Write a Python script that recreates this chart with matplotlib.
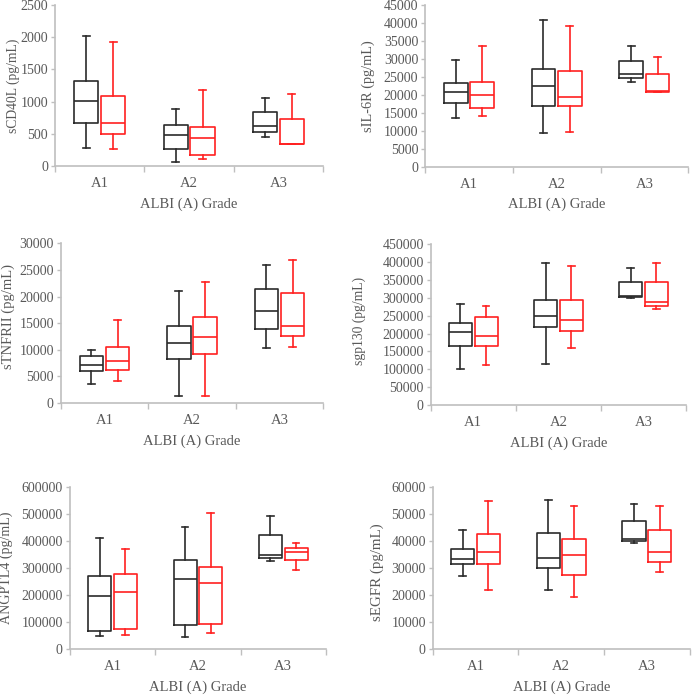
import matplotlib
matplotlib.use('Agg')
import matplotlib.pyplot as plt

plt.rcParams['font.family'] = ['Liberation Serif', 'DejaVu Serif']

categories = ["A1", "A2", "A3"]
xlabel = "ALBI (A) Grade"

# each entry: (whisker low, Q1, median, Q3, whisker high) for A1, A2, A3
cd40l_black = [(285, 674, 1017, 1323, 2015), (62, 265, 488, 643, 892), (446, 524, 622, 845, 1053)]
cd40l_red = [(259, 498, 674, 1094, 1930), (109, 176, 430, 607, 1183), (340, 340, 345, 737, 1120)]

il6r_black = [(13600, 17600, 20900, 23200, 29700), (9500, 16800, 22500, 27200, 40800), (23600, 24600, 25700, 29400, 33500)]
il6r_red = [(14200, 16400, 20000, 23600, 33500), (9800, 16800, 19500, 26700, 39200), (20800, 20800, 21000, 25900, 30500)]

tnfr_black = [(3600, 6100, 7100, 8900, 9900), (1400, 8300, 11300, 14400, 21100), (10400, 13900, 17200, 21500, 25900)]
tnfr_red = [(4100, 6300, 7900, 10600, 15600), (1400, 9300, 12400, 16100, 22700), (10600, 12600, 14500, 20700, 26800)]

gp130_black = [(101000, 164000, 203000, 230000, 283000), (115000, 217000, 250000, 293000, 397000), (300000, 303000, 306000, 343000, 382000)]
gp130_red = [(111000, 164000, 193000, 246000, 278000), (160000, 207000, 238000, 293000, 389000), (269000, 278000, 288000, 343000, 398000)]

angptl4_black = [(49000, 67000, 196000, 270000, 411000), (45000, 90000, 258000, 331000, 451000), (327000, 339000, 350000, 424000, 493000)]
angptl4_red = [(54000, 73000, 212000, 279000, 372000), (60000, 93000, 244000, 304000, 505000), (295000, 329000, 361000, 376000, 393000)]

egfr_black = [(27200, 31700, 33500, 37000, 44200), (21900, 29900, 33800, 43100, 55200), (39200, 40200, 40800, 47300, 53600)]
egfr_red = [(21900, 31600, 36000, 42500, 54800), (19200, 27400, 34800, 40800, 53000), (28500, 32300, 35900, 44200, 53000)]

# ylabel, black, red, ymax, step, axes rect, ylabel size, ylabel coords
panels = [
    ("sCD40L (pg/mL)", cd40l_black, cd40l_red, 2500, 500, [0.079, 0.761, 0.384, 0.232], 9.8, (-0.131, 0.5)),
    ("sIL-6R (pg/mL)", il6r_black, il6r_red, 45000, 5000, [0.609, 0.760, 0.377, 0.233], 10.3, (-0.190, 0.5)),
    ("sTNFRII (pg/mL)", tnfr_black, tnfr_red, 30000, 5000, [0.087, 0.420, 0.376, 0.230], 10.5, (-0.176, 0.54)),
    ("sgp130 (pg/mL)", gp130_black, gp130_red, 450000, 50000, [0.617, 0.417, 0.366, 0.232], 9.8, (-0.255, 0.52)),
    ("ANGPTL4 (pg/mL)", angptl4_black, angptl4_red, 600000, 100000, [0.100, 0.066, 0.367, 0.233], 10.1, (-0.223, 0.5)),
    ("sEGFR (pg/mL)", egfr_black, egfr_red, 60000, 10000, [0.620, 0.066, 0.368, 0.233], 10.8, (-0.19, 0.475)),
]

grey = '#595959'
axis_col = '#bfbfbf'


def make_stats(rows):
    out = []
    for lo, q1, med, q3, hi in rows:
        out.append(dict(whislo=lo, q1=q1, med=med, q3=q3, whishi=hi, fliers=[]))
    return out


def draw_group(ax, rows, pos, color):
    props = dict(color=color, linewidth=1.2)
    ax.bxp(make_stats(rows), positions=pos, widths=0.27, capwidths=0.08,
           showfliers=False, boxprops=props, medianprops=props,
           whiskerprops=props, capprops=props, manage_ticks=False)


fig = plt.figure(figsize=(6.98, 6.95), dpi=100)

for ylabel, black, red, ymax, step, rect, ysize, ycoords in panels:
    ax = fig.add_axes(rect)
    x = range(len(categories))
    draw_group(ax, black, [i - 0.15 for i in x], '#2b2b2b')
    draw_group(ax, red, [i + 0.15 for i in x], '#ff2020')
    ax.set_xlim(-0.5, 2.5)
    ax.set_ylim(0, ymax)
    ax.set_yticks(range(0, ymax + 1, step))
    ax.set_xticks(list(x))
    ax.set_xticklabels(categories)
    ax.set_xticks([-0.5, 0.5, 1.5, 2.5], minor=True)
    ax.tick_params(axis='x', which='major', length=0, pad=8, labelsize=10.5, labelcolor=grey)
    ax.tick_params(axis='x', which='minor', length=4, color=axis_col, width=1)
    ax.tick_params(axis='y', length=3, width=1, color=axis_col, pad=2, labelsize=10, labelcolor=grey)
    for s in ['top', 'right']:
        ax.spines[s].set_visible(False)
    for s in ['left', 'bottom']:
        ax.spines[s].set_color(axis_col)
        ax.spines[s].set_linewidth(1.2)
    ax.set_xlabel(xlabel, fontsize=10.5, color=grey, labelpad=5)
    ax.set_ylabel(ylabel, fontsize=ysize, color=grey)
    ax.yaxis.set_label_coords(*ycoords)

plt.savefig('out.png', dpi=100)
